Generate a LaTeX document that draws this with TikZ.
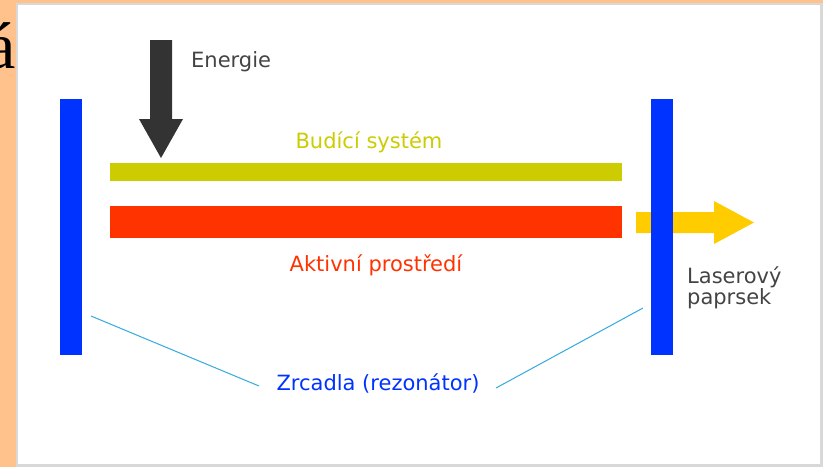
\documentclass[tikz,border=0pt]{standalone}
\usepackage{fontspec}
\setmainfont{DejaVu Sans}
\newfontfamily\slideserif{Liberation Serif}
\definecolor{peach}{HTML}{FFC28C}
\definecolor{mirrorblue}{HTML}{0033FF}
\definecolor{pumpgreen}{HTML}{CCCC00}
\definecolor{mediumred}{HTML}{FF3300}
\definecolor{beamyellow}{HTML}{FFCC00}
\definecolor{energygray}{HTML}{333333}
\definecolor{leadercyan}{HTML}{33AADD}
\definecolor{textgray}{HTML}{444444}
\definecolor{framegray}{HTML}{D8D8D8}
\tikzset{
  mirror/.style={fill=mirrorblue, minimum width=22pt, minimum height=256pt, inner sep=0pt, draw=none},
  bar/.style={minimum width=512pt, inner sep=0pt, draw=none},
  lbl/.style={font=\fontsize{21}{21}\selectfont, inner sep=0pt},
  leader/.style={draw=leadercyan, line width=1pt}
}
\begin{document}
\begin{tikzpicture}[x=1pt,y=-1pt]
\useasboundingbox (0,0) rectangle (823,467);
\fill[peach] (0,0) rectangle (823,467);
\node[anchor=base west, font=\slideserif\fontsize{66}{70}\selectfont, inner sep=0pt] (acc) at (-14,68) {á};
\fill[framegray] (16,3) rectangle (823,467);
\fill[white] (18,4.5) rectangle (820,464);
% bars
\node[bar, fill=pumpgreen, minimum height=18pt] (pump) at (366,172) {};
\node[bar, fill=mediumred, minimum height=32pt] (medium) at (366,222) {};
% laser beam arrow (under mirror)
\fill[beamyellow] (636,212) -- (714,212) -- (714,201) -- (754,222.5) -- (714,244) -- (714,233) -- (636,233) -- cycle;
% energy arrow
\fill[energygray] (150,40) -- (172,40) -- (172,119) -- (183,119) -- (161,158) -- (139,119) -- (150,119) -- cycle;
% mirrors
\node[mirror] (ml) at (71,227) {};
\node[mirror] (mr) at (662,227) {};
% labels
\node[lbl, text=textgray, anchor=base west] (energy) at (191,67) {Energie};
\node[lbl, text=pumpgreen, anchor=base] (pumplbl) at (369,148) {Budící systém};
\node[lbl, text=mediumred, anchor=base] (mediumlbl) at (376,271) {Aktivní prostředí};
\node[lbl, text=textgray, anchor=base west, align=left] (beam) at (687,304) {Laserový\\paprsek};
\node[lbl, text=mirrorblue, anchor=base] (mirrors) at (378,390) {Zrcadla (rezonátor)};
% leader lines
\coordinate (lp) at (91,316);
\coordinate (rp) at (643,308);
\coordinate (lz) at (259,386);
\coordinate (rz) at (496,388);
\draw[leader] (lp) -- (lz);
\draw[leader] (rp) -- (rz);
\end{tikzpicture}
\end{document}
